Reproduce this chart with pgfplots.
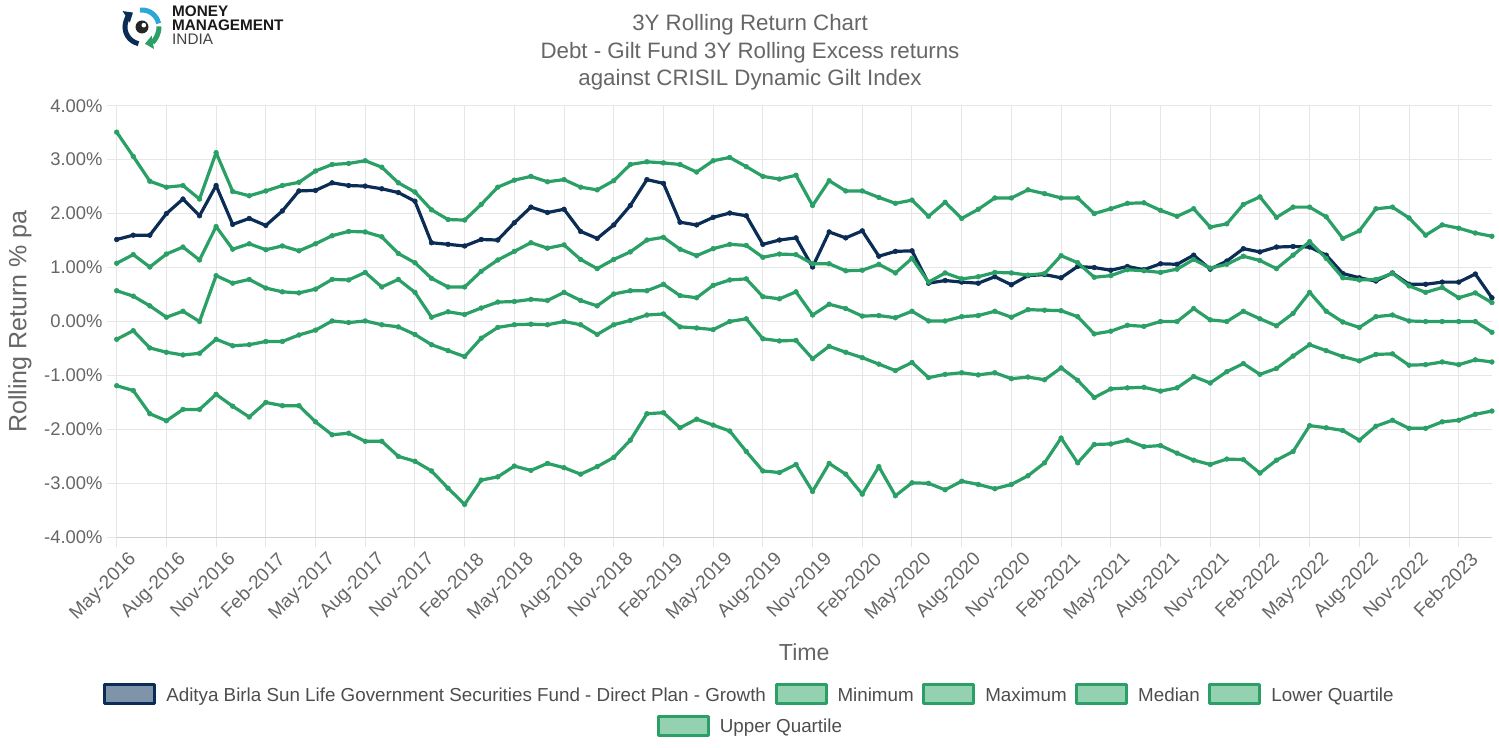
\documentclass[border=0pt]{standalone}
\usepackage{fontspec}
\setmainfont{Liberation Sans}
\usepackage{pgfplots}
\pgfplotsset{compat=1.18}
\usepackage{pgfplotstable}
\usetikzlibrary{arrows.meta}

\definecolor{navy}{HTML}{0B2C54}
\definecolor{gr}{HTML}{2A9F66}
\definecolor{navyfill}{HTML}{7F93A9}
\definecolor{grfill}{HTML}{93D1B1}
\definecolor{gridc}{HTML}{E6E6E6}
\definecolor{axc}{HTML}{D0D0D0}
\definecolor{txt}{HTML}{666666}
\definecolor{legtxt}{HTML}{4D4D4D}
\definecolor{logocyan}{HTML}{2BA8D8}

\pgfplotstableread{
i max fund uq med lq min
0 3.51 1.52 1.08 0.57 -0.33 -1.19
1 3.06 1.60 1.24 0.47 -0.17 -1.28
2 2.60 1.60 1.01 0.29 -0.49 -1.71
3 2.49 2.00 1.25 0.08 -0.57 -1.84
4 2.52 2.27 1.38 0.19 -0.62 -1.63
5 2.27 1.96 1.14 0.00 -0.59 -1.63
6 3.13 2.52 1.76 0.85 -0.33 -1.35
7 2.41 1.80 1.34 0.71 -0.45 -1.57
8 2.33 1.91 1.44 0.78 -0.43 -1.77
9 2.42 1.78 1.33 0.62 -0.37 -1.50
10 2.52 2.05 1.40 0.55 -0.37 -1.56
11 2.58 2.42 1.31 0.53 -0.25 -1.56
12 2.79 2.43 1.44 0.60 -0.16 -1.86
13 2.91 2.57 1.59 0.78 0.01 -2.10
14 2.93 2.52 1.67 0.77 -0.02 -2.07
15 2.98 2.51 1.66 0.91 0.01 -2.22
16 2.86 2.46 1.57 0.64 -0.06 -2.22
17 2.57 2.39 1.26 0.78 -0.10 -2.50
18 2.40 2.23 1.09 0.54 -0.24 -2.59
19 2.07 1.46 0.80 0.08 -0.43 -2.77
20 1.89 1.43 0.64 0.18 -0.54 -3.09
21 1.88 1.40 0.64 0.13 -0.65 -3.39
22 2.17 1.52 0.93 0.25 -0.31 -2.94
23 2.49 1.51 1.14 0.36 -0.11 -2.88
24 2.62 1.83 1.30 0.37 -0.06 -2.68
25 2.69 2.12 1.46 0.41 -0.05 -2.76
26 2.59 2.02 1.36 0.39 -0.06 -2.63
27 2.63 2.08 1.42 0.54 0.00 -2.71
28 2.49 1.67 1.15 0.39 -0.06 -2.83
29 2.44 1.54 0.98 0.29 -0.24 -2.69
30 2.61 1.79 1.15 0.51 -0.06 -2.52
31 2.91 2.15 1.29 0.57 0.02 -2.20
32 2.96 2.63 1.51 0.57 0.12 -1.71
33 2.94 2.56 1.56 0.69 0.14 -1.69
34 2.91 1.84 1.34 0.48 -0.10 -1.97
35 2.77 1.79 1.22 0.44 -0.12 -1.81
36 2.98 1.93 1.35 0.67 -0.15 -1.92
37 3.04 2.01 1.43 0.77 0.00 -2.03
38 2.87 1.96 1.41 0.79 0.05 -2.41
39 2.69 1.43 1.19 0.46 -0.32 -2.77
40 2.64 1.51 1.25 0.42 -0.36 -2.80
41 2.71 1.55 1.24 0.55 -0.35 -2.65
42 2.15 1.01 1.07 0.12 -0.69 -3.15
43 2.61 1.66 1.07 0.32 -0.46 -2.63
44 2.42 1.55 0.94 0.24 -0.57 -2.83
45 2.42 1.68 0.95 0.10 -0.67 -3.20
46 2.30 1.21 1.06 0.11 -0.79 -2.69
47 2.19 1.30 0.90 0.07 -0.91 -3.23
48 2.25 1.31 1.17 0.19 -0.76 -2.99
49 1.95 0.71 0.73 0.01 -1.04 -3.00
50 2.21 0.76 0.90 0.01 -0.98 -3.12
51 1.91 0.73 0.79 0.09 -0.95 -2.96
52 2.08 0.71 0.83 0.11 -0.99 -3.02
53 2.29 0.83 0.91 0.19 -0.95 -3.10
54 2.29 0.68 0.90 0.08 -1.06 -3.02
55 2.44 0.85 0.86 0.22 -1.03 -2.86
56 2.37 0.87 0.89 0.21 -1.08 -2.62
57 2.29 0.81 1.22 0.20 -0.86 -2.16
58 2.29 1.02 1.09 0.09 -1.09 -2.62
59 2.00 1.00 0.82 -0.23 -1.41 -2.28
60 2.09 0.95 0.85 -0.18 -1.25 -2.27
61 2.19 1.02 0.96 -0.07 -1.23 -2.20
62 2.20 0.96 0.94 -0.09 -1.22 -2.32
63 2.06 1.07 0.91 0.00 -1.29 -2.30
64 1.95 1.06 0.97 0.00 -1.23 -2.44
65 2.09 1.23 1.15 0.24 -1.02 -2.57
66 1.75 0.97 0.99 0.03 -1.14 -2.65
67 1.81 1.12 1.06 0.00 -0.93 -2.55
68 2.17 1.35 1.21 0.19 -0.78 -2.56
69 2.31 1.29 1.13 0.05 -0.98 -2.81
70 1.93 1.38 0.98 -0.08 -0.87 -2.57
71 2.12 1.39 1.23 0.15 -0.64 -2.41
72 2.12 1.38 1.48 0.54 -0.43 -1.93
73 1.94 1.23 1.17 0.19 -0.54 -1.97
74 1.54 0.89 0.81 -0.01 -0.65 -2.02
75 1.68 0.81 0.77 -0.11 -0.73 -2.20
76 2.09 0.75 0.78 0.09 -0.61 -1.94
77 2.12 0.90 0.89 0.12 -0.60 -1.83
78 1.92 0.69 0.66 0.01 -0.81 -1.98
79 1.60 0.69 0.54 0.00 -0.80 -1.98
80 1.79 0.73 0.63 0.00 -0.75 -1.86
81 1.73 0.73 0.44 0.00 -0.80 -1.83
82 1.64 0.88 0.53 0.00 -0.71 -1.72
83 1.58 0.44 0.35 -0.20 -0.75 -1.66
}\rr

\pgfplotsset{
  base/.style={
    scale only axis, width=1375.3bp, height=431.6bp,
    at={(116.7bp,210.7bp)}, anchor=south west,
    xmin=0, xmax=83, ymin=-4, ymax=4, clip=false,
    legend style={draw=none, fill=none, text=legtxt,
      font=\fontsize{18.8bp}{22bp}\selectfont,
      anchor=center, inner sep=0bp, outer sep=0bp,
      cells={anchor=base west},
      nodes={inner sep=0bp},
      /tikz/every even column/.append style={column sep=8.5bp},
      /tikz/every odd column/.append style={column sep=10bp}},
  },
  gline/.style={gr, line width=3.2bp, line join=round, mark=*, mark size=2.4bp,
    mark options={solid, fill=gr, draw=gr, line width=0.5bp},
    legend image code/.code={\draw[draw=gr, fill=grfill, line width=3bp] (1.5bp,-2.8bp) rectangle (51.5bp,16.2bp);}},
  nline/.style={navy, line width=3.2bp, line join=round, mark=*, mark size=2.4bp,
    mark options={solid, fill=navy, draw=navy, line width=0.5bp},
    legend image code/.code={\draw[draw=navy, fill=navyfill, line width=3bp] (1.5bp,-2.8bp) rectangle (51.5bp,16.2bp);}},
}

\begin{document}
\begin{tikzpicture}
\useasboundingbox (0,0) rectangle (1499bp,748bp);
\begin{axis}[base,
  axis x line*=bottom, axis y line*=left,
  x axis line style={draw=axc, line width=1bp},
  y axis line style={draw=none},
  grid=major, major grid style={draw=gridc, line width=1bp},
  tick align=outside, major tick length=10bp,
  tick style={draw=gridc, line width=1bp},
  xtick={0,3,...,81},
  xticklabels={May-2016,Aug-2016,Nov-2016,Feb-2017,May-2017,Aug-2017,Nov-2017,Feb-2018,May-2018,Aug-2018,Nov-2018,Feb-2019,May-2019,Aug-2019,Nov-2019,Feb-2020,May-2020,Aug-2020,Nov-2020,Feb-2021,May-2021,Aug-2021,Nov-2021,Feb-2022,May-2022,Aug-2022,Nov-2022,Feb-2023},
  ytick={-4,-3,...,4},
  yticklabels={-4.00\%,-3.00\%,-2.00\%,-1.00\%,0.00\%,1.00\%,2.00\%,3.00\%,4.00\%},
  tick label style={font=\fontsize{18.4bp}{22bp}\selectfont, text=txt},
  /pgf/number format/assume math mode=true,
  xticklabel style={rotate=45, anchor=north east, inner sep=0bp, font=\fontsize{19bp}{22bp}\selectfont, xshift=5bp, yshift=-10bp},
  yticklabel style={anchor=east, inner sep=0bp, xshift=-4bp},
  ylabel={Rolling Return \% pa},
  ylabel style={font=\fontsize{25bp}{30bp}\selectfont, text=txt, at={(axis description cs:-0.0703,0.5)}, anchor=center},
  xlabel={Time},
  xlabel style={font=\fontsize{23.2bp}{28bp}\selectfont, text=txt, at={(axis description cs:0.5,-0.2658)}, anchor=center},
  legend columns=5,
  legend style={at={(axis description cs:0.4594,-0.3642)}},
]
\addplot[nline] table[x=i,y=fund]{\rr};
\addlegendentry{Aditya Birla Sun Life Government Securities Fund - Direct Plan - Growth}
\addplot[gline] table[x=i,y=min]{\rr};
\addlegendentry{Minimum}
\addplot[gline] table[x=i,y=max]{\rr};
\addlegendentry{Maximum}
\addplot[gline] table[x=i,y=med]{\rr};
\addlegendentry{Median}
\addplot[gline] table[x=i,y=lq]{\rr};
\addlegendentry{Lower Quartile}
\end{axis}
\begin{axis}[base, hide axis,
  legend columns=1,
  legend style={at={(axis description cs:0.4601,-0.4372)}},
]
\addplot[gline] table[x=i,y=uq]{\rr};
\addlegendentry{Upper Quartile}
\end{axis}

% title
\node[anchor=base, font=\fontsize{22.3bp}{27bp}\selectfont, text=txt, inner sep=0] at (750bp,717bp) {3Y Rolling Return Chart};
\node[anchor=base, font=\fontsize{22.3bp}{27bp}\selectfont, text=txt, inner sep=0] at (750bp,689.5bp) {Debt - Gilt Fund 3Y Rolling Excess returns};
\node[anchor=base, font=\fontsize{22.3bp}{27bp}\selectfont, text=txt, inner sep=0] at (750bp,662bp) {against CRISIL Dynamic Gilt Index};

% logo
\begin{scope}[shift={(142bp,721bp)}]
\draw[navy, line width=5bp, -{Triangle[length=8bp,width=13bp]}] (258:17bp) arc[start angle=258, end angle=122, radius=17bp];
\draw[logocyan, line width=5bp] (96:17bp) arc[start angle=96, end angle=12, radius=17bp];
\draw[gr, line width=5bp, -{Triangle[length=8bp,width=13bp]}] (2:17bp) arc[start angle=2, end angle=-80, radius=17bp];
\fill[black!85] (0,0) circle (6.5bp);
\fill[white] (1.8bp,1.8bp) circle (2.3bp);
\end{scope}
\node[anchor=base west, inner sep=0, font=\bfseries\fontsize{15.3bp}{16bp}\selectfont, text=black!90] at (172bp,731bp) {MONEY};
\node[anchor=base west, inner sep=0, font=\bfseries\fontsize{15.3bp}{16bp}\selectfont, text=black!90] at (172bp,717bp) {MANAGEMENT};
\node[anchor=base west, inner sep=0, font=\fontsize{15.3bp}{16bp}\selectfont, text=black!75] at (172bp,703bp) {INDIA};
\end{tikzpicture}
\end{document}
